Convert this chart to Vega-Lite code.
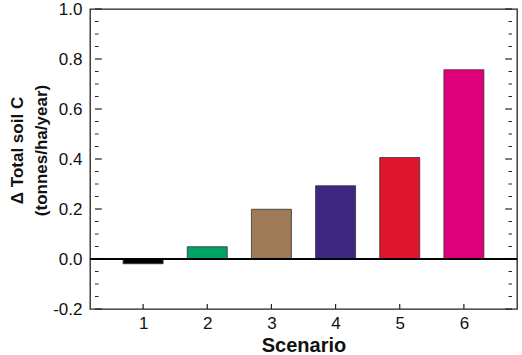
{
  "$schema": "https://vega.github.io/schema/vega-lite/v6.json",
  "autosize": "none",
  "width": 427,
  "height": 300,
  "padding": {"left": 90, "top": 9, "right": 5, "bottom": 46},
  "background": "white",
  "config": {
    "view": {"stroke": "#222222", "strokeWidth": 1.3},
    "font": "Liberation Sans",
    "axis": {"labelFont": "Liberation Sans", "titleFont": "Liberation Sans", "labelColor": "#111", "titleColor": "#111", "grid": false, "domain": false, "ticks": false}
  },
  "datasets": {
    "bars": [
      {"scenario": 1, "value": -0.019, "color": "#000000"},
      {"scenario": 2, "value": 0.049, "color": "#00a266"},
      {"scenario": 3, "value": 0.199, "color": "#9e7a57"},
      {"scenario": 4, "value": 0.293, "color": "#3e2683"},
      {"scenario": 5, "value": 0.406, "color": "#e0162d"},
      {"scenario": 6, "value": 0.757, "color": "#e0007b"}
    ],
    "major": [{"v": -0.2}, {"v": 0}, {"v": 0.2}, {"v": 0.4}, {"v": 0.6}, {"v": 0.8}, {"v": 1.0}],
    "minor": [{"v": -0.15}, {"v": -0.1}, {"v": -0.05}, {"v": 0.05}, {"v": 0.1}, {"v": 0.15}, {"v": 0.25}, {"v": 0.3}, {"v": 0.35}, {"v": 0.45}, {"v": 0.5}, {"v": 0.55}, {"v": 0.65}, {"v": 0.7}, {"v": 0.75}, {"v": 0.85}, {"v": 0.9}, {"v": 0.95}]
  },
  "layer": [
    {
      "data": {"name": "bars"},
      "mark": {"type": "bar", "size": 40, "stroke": "#333333", "strokeWidth": 0.8},
      "encoding": {
        "x": {
          "field": "scenario", "type": "quantitative",
          "scale": {"domain": [0.25, 6.75], "nice": false, "zero": false},
          "axis": {"values": [1, 2, 3, 4, 5, 6], "format": "d", "labelPadding": 6, "labelFontSize": 17, "title": "Scenario", "titleFontSize": 20, "titleFontWeight": "bold", "titlePadding": 4}
        },
        "y": {
          "field": "value", "type": "quantitative",
          "scale": {"domain": [-0.2, 1.0], "nice": false, "zero": false},
          "axis": {
            "values": [-0.2, 0, 0.2, 0.4, 0.6, 0.8, 1.0],
            "labelExpr": "replace(format(datum.value, '.1f'), '−', '-')",
            "labelPadding": 8, "labelFontSize": 17,
            "title": ["Δ Total soil C", "(tonnes/ha/year)"],
            "titleFontSize": 17, "titleFontWeight": "bold", "titleY": 141, "titlePadding": 2, "titleLineHeight": 24
          }
        },
        "color": {"field": "color", "type": "nominal", "scale": null, "legend": null}
      }
    },
    {
      "data": {"name": "bars"},
      "mark": {"type": "rule", "color": "#222222", "strokeWidth": 1.2},
      "encoding": {
        "x": {"field": "scenario", "type": "quantitative"},
        "y": {"datum": -0.2, "type": "quantitative"},
        "y2": {"datum": -0.18}
      }
    },
    {
      "data": {"name": "major"},
      "mark": {"type": "rule", "color": "#222222", "strokeWidth": 1.2},
      "encoding": {
        "y": {"field": "v", "type": "quantitative"},
        "x": {"datum": 0.25, "type": "quantitative"},
        "x2": {"datum": 0.356}
      }
    },
    {
      "data": {"name": "minor"},
      "mark": {"type": "rule", "color": "#222222", "strokeWidth": 1},
      "encoding": {
        "y": {"field": "v", "type": "quantitative"},
        "x": {"datum": 0.25, "type": "quantitative"},
        "x2": {"datum": 0.305}
      }
    },
    {
      "data": {"name": "major"},
      "mark": {"type": "rule", "color": "#222222", "strokeWidth": 1.2},
      "encoding": {
        "y": {"field": "v", "type": "quantitative"},
        "x": {"datum": 6.644, "type": "quantitative"},
        "x2": {"datum": 6.75}
      }
    },
    {
      "data": {"name": "minor"},
      "mark": {"type": "rule", "color": "#222222", "strokeWidth": 1},
      "encoding": {
        "y": {"field": "v", "type": "quantitative"},
        "x": {"datum": 6.695, "type": "quantitative"},
        "x2": {"datum": 6.75}
      }
    },
    {
      "data": {"name": "major"},
      "mark": {"type": "rule", "color": "#000000", "strokeWidth": 1},
      "encoding": {
        "y": {"datum": 0, "type": "quantitative"}
      }
    }
  ]
}
